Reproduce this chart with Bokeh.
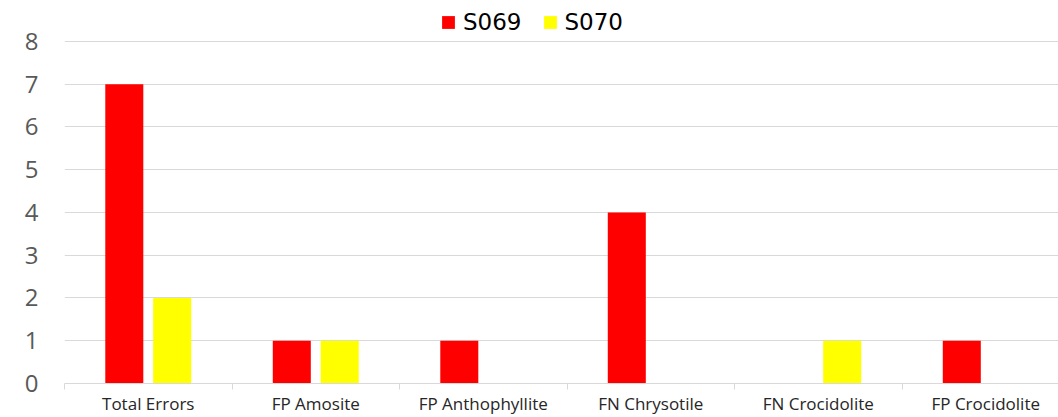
from bokeh.plotting import figure
from bokeh.models import Range1d, FixedTicker, ColumnDataSource, Legend, LegendItem
from bokeh.embed import file_html
from bokeh.resources import INLINE

categories = ["Total Errors", "FP Amosite", "FP Anthophyllite", "FN Chrysotile", "FN Crocidolite", "FP Crocidolite"]
s069 = [7, 1, 1, 4, 0, 1]
s070 = [2, 1, 0, 0, 1, 0]
series_names = ["S069", "S070"]
colors = ["#FF0000", "#FFFF00"]
y_ticks = [0, 1, 2, 3, 4, 5, 6, 7, 8]

n = len(categories)
centers = [i + 0.5 for i in range(n)]
offset = 0.143
bw = 0.227

p = figure(width=1058, height=417, output_backend="svg", toolbar_location=None,
           x_range=Range1d(0, 994 / 167.5), y_range=Range1d(0, 384 / 42.875),
           min_border_left=64, min_border_right=0, min_border_top=0, min_border_bottom=33)
p.outline_line_color = None
p.background_fill_color = "white"
p.border_fill_color = "white"

src1 = ColumnDataSource(dict(x=[c - offset for c in centers], top=s069))
src2 = ColumnDataSource(dict(x=[c + offset for c in centers], top=s070))
r1 = p.vbar(x="x", top="top", width=bw, source=src1, fill_color=colors[0], line_color=None)
r2 = p.vbar(x="x", top="top", width=bw, source=src2, fill_color=colors[1], line_color=None)

# x axis
p.xaxis.ticker = FixedTicker(ticks=centers, minor_ticks=list(range(n + 1)))
p.xaxis.major_label_overrides = {c: lab for c, lab in zip(centers, categories)}
p.xaxis.major_tick_line_color = None
p.xaxis.major_tick_out = 0
p.xaxis.major_tick_in = 0
p.xaxis.minor_tick_line_color = "#d9d9d9"
p.xaxis.minor_tick_out = 6
p.xaxis.minor_tick_in = 0
p.xaxis.axis_line_color = "#d9d9d9"
p.xaxis.major_label_text_font = "Open Sans"
p.xaxis.major_label_text_font_size = "17px"
p.xaxis.major_label_text_color = "#262626"
p.xaxis.major_label_standoff = 2
p.xgrid.grid_line_color = None

# y axis
p.yaxis.ticker = FixedTicker(ticks=y_ticks)
p.yaxis.axis_line_color = None
p.yaxis.major_tick_line_color = None
p.yaxis.minor_tick_line_color = None
p.yaxis.major_tick_out = 0
p.yaxis.major_label_standoff = 26
p.yaxis.major_label_text_font = "Open Sans"
p.yaxis.major_label_text_font_size = "24px"
p.yaxis.major_label_text_color = "#595959"
p.ygrid.grid_line_color = "#d9d9d9"
p.ygrid.grid_line_width = 1

legend = Legend(items=[LegendItem(label=series_names[0], renderers=[r1]),
                       LegendItem(label=series_names[1], renderers=[r2])],
                orientation="horizontal", location=(376, 348),
                glyph_width=16, glyph_height=16, label_standoff=7, spacing=20,
                padding=0, margin=0, border_line_color=None, background_fill_alpha=0,
                label_text_font="DejaVu Sans", label_text_font_size="23px",
                label_text_color="#000000", label_height=16)
p.add_layout(legend)

open("out.html", "w").write(file_html(p, INLINE))
